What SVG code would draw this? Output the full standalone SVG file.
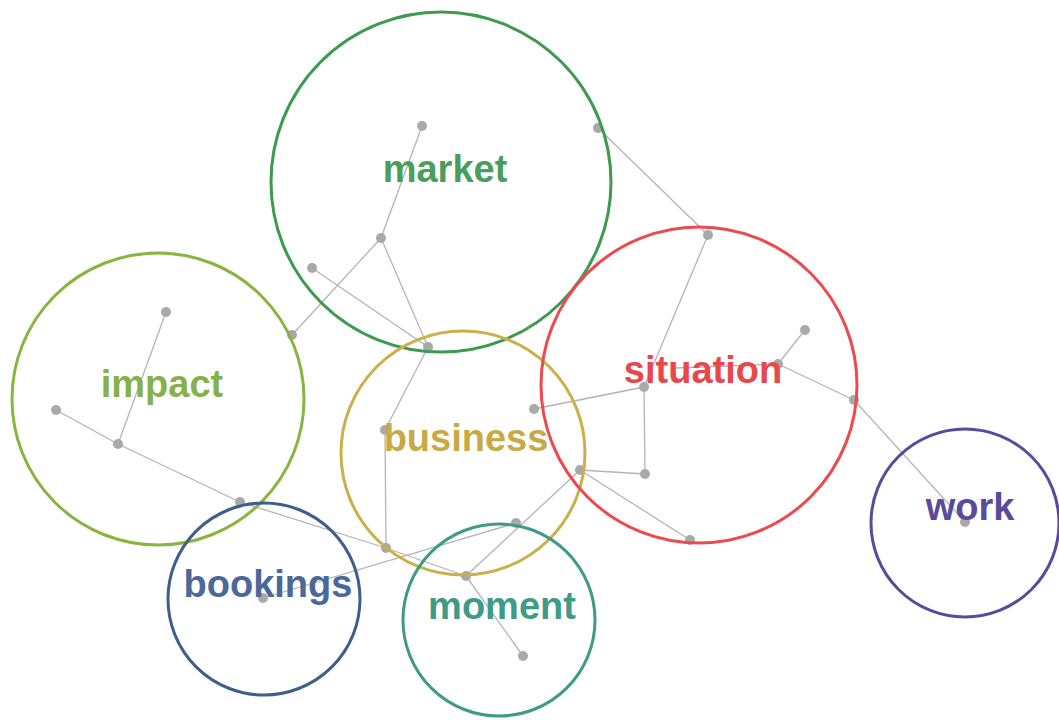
<svg xmlns="http://www.w3.org/2000/svg" width="1059" height="720" viewBox="0 0 1059 720">
<style>
.edge{stroke:#b4b4b4;stroke-width:1.3;fill:none}
.pt{fill:#a9a9a9}
.ring{fill:none;stroke-width:3}
.lbl{font-family:"Liberation Sans",Arial,sans-serif;font-weight:bold;font-size:38px;text-anchor:middle}
</style>
<rect width="1059" height="720" fill="#ffffff"/>
<g id="connectors">
<line class="edge" x1="422" y1="126" x2="381" y2="238"/>
<line class="edge" x1="381" y1="238" x2="292" y2="335"/>
<line class="edge" x1="381" y1="238" x2="428" y2="347"/>
<line class="edge" x1="312" y1="268" x2="428" y2="347"/>
<line class="edge" x1="598" y1="128" x2="708" y2="235"/>
<line class="edge" x1="708" y1="235" x2="644" y2="387"/>
<line class="edge" x1="534" y1="409" x2="644" y2="387"/>
<line class="edge" x1="644" y1="387" x2="645" y2="474"/>
<line class="edge" x1="580" y1="470" x2="645" y2="474"/>
<line class="edge" x1="580" y1="470" x2="690" y2="540"/>
<line class="edge" x1="580" y1="470" x2="466" y2="576"/>
<line class="edge" x1="516" y1="523" x2="263" y2="598"/>
<line class="edge" x1="428" y1="347" x2="385" y2="430"/>
<line class="edge" x1="385" y1="430" x2="386" y2="548"/>
<line class="edge" x1="240" y1="502" x2="386" y2="548"/>
<line class="edge" x1="386" y1="548" x2="466" y2="576"/>
<line class="edge" x1="466" y1="576" x2="523" y2="656"/>
<line class="edge" x1="166" y1="312" x2="118" y2="444"/>
<line class="edge" x1="56" y1="410" x2="118" y2="444"/>
<line class="edge" x1="118" y1="444" x2="240" y2="502"/>
<line class="edge" x1="805" y1="330" x2="778" y2="364"/>
<line class="edge" x1="778" y1="364" x2="676" y2="368"/>
<line class="edge" x1="778" y1="364" x2="854" y2="400"/>
<line class="edge" x1="854" y1="400" x2="965" y2="522"/>
</g>
<g id="points">
<g id="p1"><circle class="pt" cx="422" cy="126" r="5"/></g>
<g id="p2"><circle class="pt" cx="598" cy="128" r="5"/></g>
<g id="p3"><circle class="pt" cx="381" cy="238" r="5"/></g>
<g id="p4"><circle class="pt" cx="312" cy="268" r="5"/></g>
<g id="p5"><circle class="pt" cx="292" cy="335" r="5"/></g>
<g id="p6"><circle class="pt" cx="428" cy="347" r="5"/></g>
<g id="p7"><circle class="pt" cx="708" cy="235" r="5"/></g>
<g id="p8"><circle class="pt" cx="166" cy="312" r="5"/></g>
<g id="p9"><circle class="pt" cx="56" cy="410" r="5"/></g>
<g id="p10"><circle class="pt" cx="118" cy="444" r="5"/></g>
<g id="p11"><circle class="pt" cx="240" cy="502" r="5"/></g>
<g id="p12"><circle class="pt" cx="385" cy="430" r="5"/></g>
<g id="p13"><circle class="pt" cx="386" cy="548" r="5"/></g>
<g id="p14"><circle class="pt" cx="466" cy="576" r="5"/></g>
<g id="p15"><circle class="pt" cx="516" cy="523" r="5"/></g>
<g id="p16"><circle class="pt" cx="534" cy="409" r="5"/></g>
<g id="p17"><circle class="pt" cx="644" cy="387" r="5"/></g>
<g id="p18"><circle class="pt" cx="580" cy="470" r="5"/></g>
<g id="p19"><circle class="pt" cx="645" cy="474" r="5"/></g>
<g id="p20"><circle class="pt" cx="690" cy="540" r="5"/></g>
<g id="p21"><circle class="pt" cx="805" cy="330" r="5"/></g>
<g id="p22"><circle class="pt" cx="778" cy="364" r="5"/></g>
<g id="p23"><circle class="pt" cx="854" cy="400" r="5"/></g>
<g id="p24"><circle class="pt" cx="965" cy="522" r="5"/></g>
<g id="p25"><circle class="pt" cx="263" cy="598" r="5"/></g>
<g id="p26"><circle class="pt" cx="523" cy="656" r="5"/></g>
</g>
<g id="market"><circle class="ring" cx="441" cy="182" r="170" stroke="#3d9a50"/><text class="lbl" x="445" y="182" fill="#4a9e5c">market</text></g>
<g id="impact"><circle class="ring" cx="158" cy="399" r="146" stroke="#88b440"/><text class="lbl" x="162" y="397" fill="#86b04a">impact</text></g>
<g id="business"><circle class="ring" cx="463" cy="453" r="122" stroke="#cbb04a"/><text class="lbl" x="466" y="451" fill="#c8aa45">business</text></g>
<g id="situation"><circle class="ring" cx="699" cy="385" r="158" stroke="#ec4a4f"/><text class="lbl" x="703" y="383" fill="#e8474c">situation</text></g>
<g id="work"><circle class="ring" cx="965" cy="523" r="94" stroke="#5b4a9b"/><text class="lbl" x="970" y="520" fill="#5a4a98">work</text></g>
<g id="bookings"><circle class="ring" cx="264" cy="599" r="96" stroke="#3f5e8c"/><text class="lbl" x="268" y="597" fill="#4a6898">bookings</text></g>
<g id="moment"><circle class="ring" cx="499" cy="620" r="96" stroke="#3f9a86"/><text class="lbl" x="502" y="619" fill="#3f9a86">moment</text></g>
</svg>
